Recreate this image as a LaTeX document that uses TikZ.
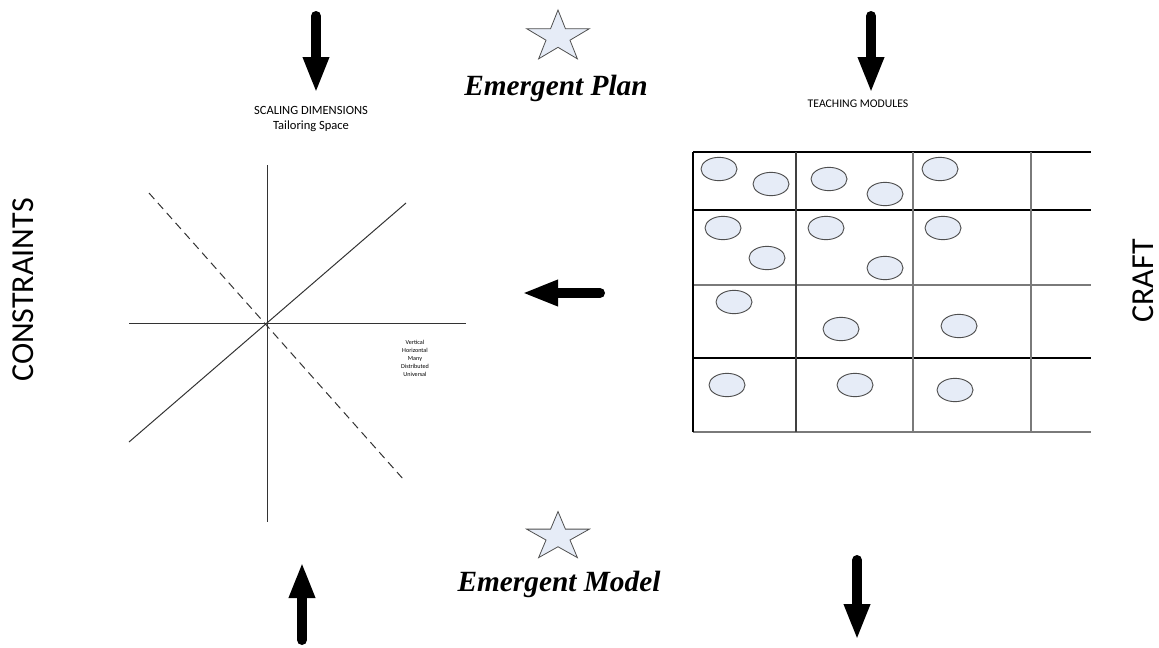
\documentclass[tikz,border=0pt]{standalone}
\usepackage{fontspec}
\setmainfont{Carlito}
\newfontfamily\cursivefont{Liberation Serif}
\usetikzlibrary{arrows.meta,shapes.geometric}
\definecolor{paleblue}{HTML}{E6ECF7}
\definecolor{rimgray}{HTML}{4F4F4F}
\definecolor{gridgray}{HTML}{7A7A7A}
\tikzset{
  bigarrow/.style={line width=7.5pt, line cap=round,
    -{Triangle[length=27pt,width=18pt]}},
  axisline/.style={draw=black!80, line width=0.75pt},
  dashline/.style={draw=black!80, line width=0.75pt, dash pattern=on 6pt off 4pt},
  gridline/.style={line width=0.9pt},
  module/.style={ellipse, draw=rimgray, fill=paleblue, line width=0.7pt,
    minimum width=27pt, minimum height=17.5pt, inner sep=0pt},
  starfill/.style={draw=rimgray, fill=paleblue, line width=0.6pt, line join=miter},
  cursive/.style={font=\cursivefont\bfseries\itshape\fontsize{22}{24}\selectfont},
  heading/.style={font=\fontsize{9.4}{11.5}\selectfont, align=center},
  sidelabel/.style={font=\fontsize{24}{28}\selectfont, rotate=90, inner sep=0pt},
}
\begin{document}
\begin{tikzpicture}[x=0.75pt, y=-0.75pt]
\useasboundingbox (0,0) rectangle (1159,647);

% --- arrows around the frame
\coordinate (a1s) at (316,16);  \coordinate (a1e) at (316,93);
\coordinate (a2s) at (871,16);  \coordinate (a2e) at (871,93);
\coordinate (a3s) at (600,293); \coordinate (a3e) at (522,293);
\coordinate (a4s) at (302,640); \coordinate (a4e) at (302,562);
\coordinate (a5s) at (857,560); \coordinate (a5e) at (857,640);
\foreach \s/\e in {a1s/a1e, a2s/a2e, a3s/a3e, a4s/a4e, a5s/a5e}
  \draw[bigarrow] (\s) -- (\e);

% --- headings
\node[heading] (scaling) at (311,119) {SCALING DIMENSIONS\\Tailoring Space};
\node[heading, font=\fontsize{8.8}{10.5}\selectfont] (teaching) at (858,104) {TEACHING MODULES};
\node[sidelabel] (constraints) at (23,290) {CONSTRAINTS};
\node[sidelabel] (craft) at (1143,281) {CRAFT};

% --- stars and their captions
\draw[starfill, shift={(558,37)}, xscale=33, yscale=27]
  (-90:1) -- (-54:0.382) -- (-18:1) -- (18:0.382) -- (54:1) -- (90:0.382)
  -- (126:1) -- (162:0.382) -- (198:1) -- (234:0.382) -- cycle;
\node[cursive] (plan) at (556,88) {Emergent Plan};
\draw[starfill, shift={(558,537)}, xscale=33, yscale=25.5]
  (-90:1) -- (-54:0.382) -- (-18:1) -- (18:0.382) -- (54:1) -- (90:0.382)
  -- (126:1) -- (162:0.382) -- (198:1) -- (234:0.382) -- cycle;
\node[cursive] (model) at (559,584) {Emergent Model};

% --- scaling axes
\coordinate (o) at (267,323);
\draw[axisline] (267,165) -- (267,522);
\draw[axisline] (129,323) -- (466,323);
\draw[axisline] (129,442) -- (406,203);
\draw[dashline] (149,193) -- (404,480);
\node[font=\fontsize{4.6}{6}\selectfont, align=center] (dims) at (415,358)
  {Vertical\\Horizontal\\Many\\Distributed\\Universal};

% --- teaching module grid
\draw[gridline, black] (693,152) -- (1091,152);
\draw[gridline, black] (693,210) -- (1091,210);
\draw[gridline, gridgray] (693,285) -- (1091,285);
\draw[gridline, black] (693,358) -- (1091,358);
\draw[gridline, gridgray] (693,432) -- (1091,432);
\draw[gridline, black] (693,152) -- (693,432);
\draw[gridline, black!75] (796,152) -- (796,432);
\draw[gridline, gridgray] (913,152) -- (913,432);
\draw[gridline, gridgray] (1031,152) -- (1031,432);

% --- modules
\node[module] (m11) at (719,169) {};
\node[module] (m12) at (771,184) {};
\node[module] (m13) at (829,179) {};
\node[module] (m14) at (885,194) {};
\node[module] (m15) at (940,169) {};
\node[module] (m21) at (723,228) {};
\node[module] (m22) at (767,258) {};
\node[module] (m23) at (826,228) {};
\node[module] (m24) at (885,268) {};
\node[module] (m25) at (943,228) {};
\node[module] (m31) at (734,302) {};
\node[module] (m32) at (841,329) {};
\node[module] (m33) at (959,326) {};
\node[module] (m41) at (727,385) {};
\node[module] (m42) at (855,385) {};
\node[module] (m43) at (955,390) {};
\end{tikzpicture}
\end{document}
